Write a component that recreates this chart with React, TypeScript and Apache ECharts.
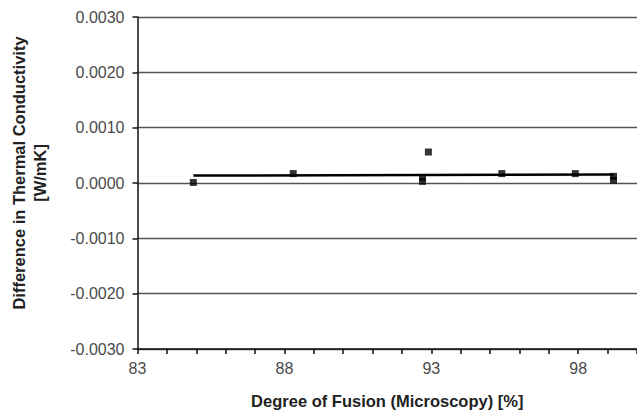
import React, { useEffect, useRef } from "react";
import * as echarts from "echarts";

// Scatter data: degree of fusion (%) vs difference in thermal conductivity (W/mK)
const fusionX: number[] = [84.9, 88.3, 92.7, 92.7, 92.9, 95.4, 97.9, 99.2, 99.2];
const diffY: number[] = [0.00001, 0.00017, 0.00003, 0.0001, 0.00056, 0.00017, 0.00017, 0.00005, 0.00012];
// Linear trend line end points
const trendX: number[] = [84.9, 99.2];
const trendY: number[] = [0.000135, 0.000153];

const yTitleLines: string[] = ["Difference in Thermal Conductivity", "[W/mK]"];
const xTitle = "Degree of Fusion (Microscopy) [%]";

export default function App() {
  const ref = useRef<HTMLDivElement>(null);
  useEffect(() => {
    document.body.style.margin = "0";
    if (!ref.current) return;
    const chart = echarts.init(ref.current, undefined, { renderer: "svg" });
    const font = "'Liberation Sans', Arial, Helvetica, sans-serif";
    chart.setOption({
      animation: false,
      backgroundColor: "#ffffff",
      grid: { left: 137.5, right: 0, top: 17, bottom: 63, containLabel: false },
      xAxis: {
        type: "value",
        min: 83,
        max: 100,
        interval: 5,
        name: xTitle,
        nameLocation: "middle",
        nameGap: 43,
        nameTextStyle: { fontFamily: font, fontSize: 16.5, fontWeight: "bold", color: "#222" },
        axisLine: { show: true, onZero: false, lineStyle: { color: "#111", width: 1.5 } },
        axisTick: { show: true, inside: false, length: 5, lineStyle: { color: "#111", width: 1.5 } },
        minorTick: { show: true, splitNumber: 5, length: 5, lineStyle: { color: "#111", width: 1.5 } },
        splitLine: { show: false },
        axisLabel: {
          fontFamily: font,
          fontSize: 16,
          color: "#4a4a4a",
          margin: 11,
          showMaxLabel: false,
        },
      },
      yAxis: {
        type: "value",
        min: -0.003,
        max: 0.003,
        interval: 0.001,
        axisLine: { show: true, onZero: false, lineStyle: { color: "#111", width: 1.5 } },
        axisTick: { show: true, inside: false, length: 5, lineStyle: { color: "#111", width: 1.5 } },
        splitLine: { show: true, lineStyle: { color: "#555", width: 1.4 } },
        axisLabel: {
          fontFamily: font,
          fontSize: 16,
          color: "#4a4a4a",
          margin: 13,
          formatter: (v: number) => v.toFixed(4),
        },
      },
      graphic: [
        {
          type: "text",
          x: 29,
          y: 173,
          rotation: Math.PI / 2,
          style: {
            text: yTitleLines.join("\n"),
            fontFamily: font,
            fontSize: 16.5,
            fontWeight: "bold",
            fill: "#222",
            align: "center",
            verticalAlign: "middle",
            lineHeight: 21,
          },
        },
      ],
      series: [
        {
          type: "line",
          data: trendX.map((x, i) => [x, trendY[i]]),
          showSymbol: false,
          symbol: "none",
          lineStyle: { color: "#000", width: 2.5 },
          z: 2,
        },
        {
          type: "scatter",
          data: fusionX.map((x, i) => [x, diffY[i]]),
          symbol: "rect",
          symbolSize: 7,
          itemStyle: { color: "#000" },
          z: 3,
        },
      ],
    });
    return () => chart.dispose();
  }, []);
  return <div ref={ref} style={{ width: 637, height: 414 }} />;
}
